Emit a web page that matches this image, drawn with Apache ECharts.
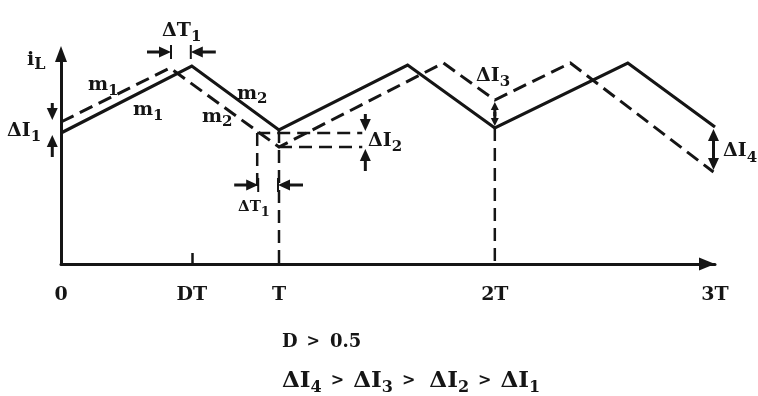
<!DOCTYPE html>
<html>
<head>
<meta charset="utf-8">
<script src="https://cdn.jsdelivr.net/npm/echarts@6/dist/echarts.min.js"></script>
<style>
  html, body { margin: 0; padding: 0; background: #fff; }
  #chart { width: 758px; height: 396px; }
</style>
</head>
<body>
<div id="chart"></div>
<script>
// Time is measured in switching periods T, current in arbitrary units.
const tickPos  = [0, 0.6, 1, 1.99, 3];
const tickText = ['0', 'DT', 'T', '2T', '3T'];

// steady-state inductor current (solid)
const steadyT = [0, 0.6, 1, 1.59, 1.99, 2.6, 3];
const steadyI = [13.1, 19.8, 13.4, 19.9, 13.6, 20.1, 13.7];

// perturbed inductor current (dashed)
const pertT = [0, 0.5, 1, 1.754, 1.99, 2.337, 2.993];
const pertI = [14.2, 19.6, 11.7, 20.1, 16.4, 20.1, 9.2];

// dashed construction lines, each [[t, i], [t, i]]
const guideT      = [[1, 13.4], [1, 0]];
const guide2T     = [[1.99, 13.6], [1.99, 0]];
const guideShift  = [[0.9, 13.1], [0.9, 7.4]];
const levelUpper  = [[0.9, 13.1], [1.382, 13.1]];
const levelLower  = [[1, 11.7], [1.382, 11.7]];

// current deviations: [t, upper level, lower level]
const dI1 = [-0.04, 14.2, 13.1];
const dI2 = [1.396, 13.1, 11.7];
const dI3 = [1.99, 16.4, 13.6];
const dI4 = [2.993, 13.7, 9.2];

// time shift ΔT1: [level, t start, t end]
const dT1Top = [21.2, 0.5, 0.6];
const dT1Bot = [7.9, 0.9, 1.0];

const INK = '#151515';
const FONT = '"DejaVu Serif", serif';

const zip = (a, b) => a.map((v, k) => [v, b[k]]);

// ---- arrow drawing helpers (pixel space) ----
function arrow(tip, dir, tail, head, width, lw) {
  const dx = dir[0], dy = dir[1];
  const px = -dy, py = dx;
  const bx = tip[0] - dx * head, by = tip[1] - dy * head;
  const parts = [];
  if (tail > head) {
    parts.push({
      type: 'line',
      shape: { x1: tip[0] - dx * tail, y1: tip[1] - dy * tail, x2: bx + dx * 2, y2: by + dy * 2 },
      style: { stroke: INK, lineWidth: lw }
    });
  }
  parts.push({
    type: 'polygon',
    shape: { points: [[tip[0], tip[1]], [bx + px * width / 2, by + py * width / 2], [bx - px * width / 2, by - py * width / 2]] },
    style: { fill: INK }
  });
  return parts;
}

// arrows from outside pointing at two levels
function renderOuterV(params, api) {
  const t = api.value(0);
  const hi = api.coord([t, api.value(1)]);
  const lo = api.coord([t, api.value(2)]);
  return {
    type: 'group',
    children: [].concat(
      arrow([hi[0], hi[1] - 2], [0, 1], 17, 12, 11, 3),
      arrow([lo[0], lo[1] + 2], [0, -1], 22, 12, 11, 3)
    )
  };
}

// double-headed arrow between two levels
function renderInnerV(params, api) {
  const t = api.value(0);
  const a = api.coord([t, api.value(1)]);
  const b = api.coord([t, api.value(2)]);
  const span = b[1] - a[1];
  const head = span > 35 ? 12 : 8;
  const w = span > 35 ? 11 : 8;
  const mid = (a[1] + b[1]) / 2;
  return {
    type: 'group',
    children: [].concat(
      arrow([a[0], a[1] + 2], [0, -1], (mid - a[1]), head, w, 3),
      arrow([b[0], b[1] - 2], [0, 1], (b[1] - mid), head, w, 3)
    )
  };
}

// horizontal arrows from outside pointing at two instants
function renderOuterH(params, api) {
  const lvl = api.value(0);
  const p1 = api.coord([api.value(1), lvl]);
  const p2 = api.coord([api.value(2), lvl]);
  const l = [p1[0] + 1, p1[1]];
  const r = [p2[0] - 1, p2[1]];
  return {
    type: 'group',
    children: [].concat(
      arrow(l, [1, 0], 24, 12, 11, 3),
      arrow(r, [-1, 0], 25, 12, 11, 3),
      [
        { type: 'line', shape: { x1: l[0], y1: l[1] - 7, x2: l[0], y2: l[1] + 7 }, style: { stroke: INK, lineWidth: 2 } },
        { type: 'line', shape: { x1: r[0], y1: r[1] - 7, x2: r[0], y2: r[1] + 7 }, style: { stroke: INK, lineWidth: 2 } }
      ]
    )
  };
}

// ---- text with subscripts: fragments [text, size, dy, gapAfter] ----
const measureCtx = document.createElement('canvas').getContext('2d');
function fontOf(size) { return 'bold ' + size + 'px ' + FONT; }
function textRun(x, y, frags) {
  const out = [];
  let cx = x;
  frags.forEach(f => {
    const txt = f[0], size = f[1], dy = f[2] || 0;
    out.push({
      type: 'text', x: cx, y: y + dy, silent: true,
      style: { text: txt, font: fontOf(size), fill: INK, textAlign: 'left', textVerticalAlign: 'middle' }
    });
    measureCtx.font = fontOf(size);
    cx += measureCtx.measureText(txt).width + (f[3] || 0);
  });
  return out;
}

const labels = [].concat(
  textRun(27, 60, [['i', 19], ['L', 16, 5]]),
  textRun(7, 131, [['ΔI', 19], ['1', 15, 6]]),
  textRun(88, 85, [['m', 19], ['1', 15, 6]]),
  textRun(133, 110, [['m', 19], ['1', 15, 6]]),
  textRun(237, 94, [['m', 19], ['2', 15, 5]]),
  textRun(202, 117, [['m', 19], ['2', 15, 5]]),
  textRun(162, 31, [['ΔT', 19], ['1', 15, 6]]),
  textRun(238, 207, [['ΔT', 15], ['1', 13, 6]]),
  textRun(368, 141, [['ΔI', 19], ['2', 15, 6]]),
  textRun(476, 76, [['ΔI', 19], ['3', 15, 6]]),
  textRun(723, 151, [['ΔI', 19], ['4', 15, 7]]),
  textRun(282, 342, [['D', 18, 0, 9], ['>', 16, 0, 10], ['0.5', 18]]),
  textRun(282, 381, [
    ['ΔI', 23], ['4', 16, 7, 9], ['>', 16, 0, 9],
    ['ΔI', 23], ['3', 16, 7, 9], ['>', 16, 0, 14],
    ['ΔI', 23], ['2', 16, 7, 9], ['>', 16, 0, 9],
    ['ΔI', 23], ['1', 16, 7]
  ])
);

function guide(data) {
  return {
    type: 'line', data: data, symbol: 'none', silent: true, z: 1,
    lineStyle: { color: INK, width: 2.5, type: [13, 7] }
  };
}

const chart = echarts.init(document.getElementById('chart'), null, { renderer: 'canvas' });
chart.setOption({
  animation: false,
  backgroundColor: '#ffffff',
  grid: { left: 61, right: 43, top: 54, bottom: 132 },
  xAxis: {
    type: 'value', min: 0, max: 3,
    axisLine: {
      show: true, onZero: true,
      symbol: ['none', 'triangle'], symbolSize: [13, 16], symbolOffset: [0, -8],
      lineStyle: { color: INK, width: 3 }
    },
    axisTick: { show: true, customValues: [0.6], inside: true, length: 11, lineStyle: { color: INK, width: 2.5 } },
    axisLabel: {
      customValues: tickPos,
      formatter: v => tickText[tickPos.indexOf(v)],
      margin: 22, color: INK, fontFamily: FONT, fontWeight: 'bold', fontSize: 19,
      showMinLabel: true, showMaxLabel: true, hideOverlap: false
    },
    splitLine: { show: false }
  },
  yAxis: {
    type: 'value', min: 0, max: 21,
    axisLine: {
      show: true, onZero: true,
      symbol: ['none', 'triangle'], symbolSize: [12, 16],
      lineStyle: { color: INK, width: 3 }
    },
    axisTick: { show: false },
    axisLabel: { show: false },
    splitLine: { show: false }
  },
  series: [
    guide(guideT), guide(guide2T), guide(guideShift), guide(levelUpper), guide(levelLower),
    {
      type: 'line', name: 'steady', data: zip(steadyT, steadyI), symbol: 'none', z: 3,
      lineStyle: { color: INK, width: 3.2, join: 'miter' }
    },
    {
      type: 'line', name: 'perturbed', data: zip(pertT, pertI), symbol: 'none', z: 2,
      lineStyle: { color: INK, width: 3, type: [14, 7], join: 'miter' }
    },
    { type: 'custom', renderItem: renderOuterV, data: [dI1, dI2], clip: false, silent: true, z: 4 },
    { type: 'custom', renderItem: renderInnerV, data: [dI3, dI4], clip: false, silent: true, z: 4 },
    { type: 'custom', renderItem: renderOuterH, data: [dT1Top, dT1Bot], clip: false, silent: true, z: 4,
      encode: { x: 1, y: 0 } }
  ],
  graphic: { elements: labels }
});
</script>
</body>
</html>
